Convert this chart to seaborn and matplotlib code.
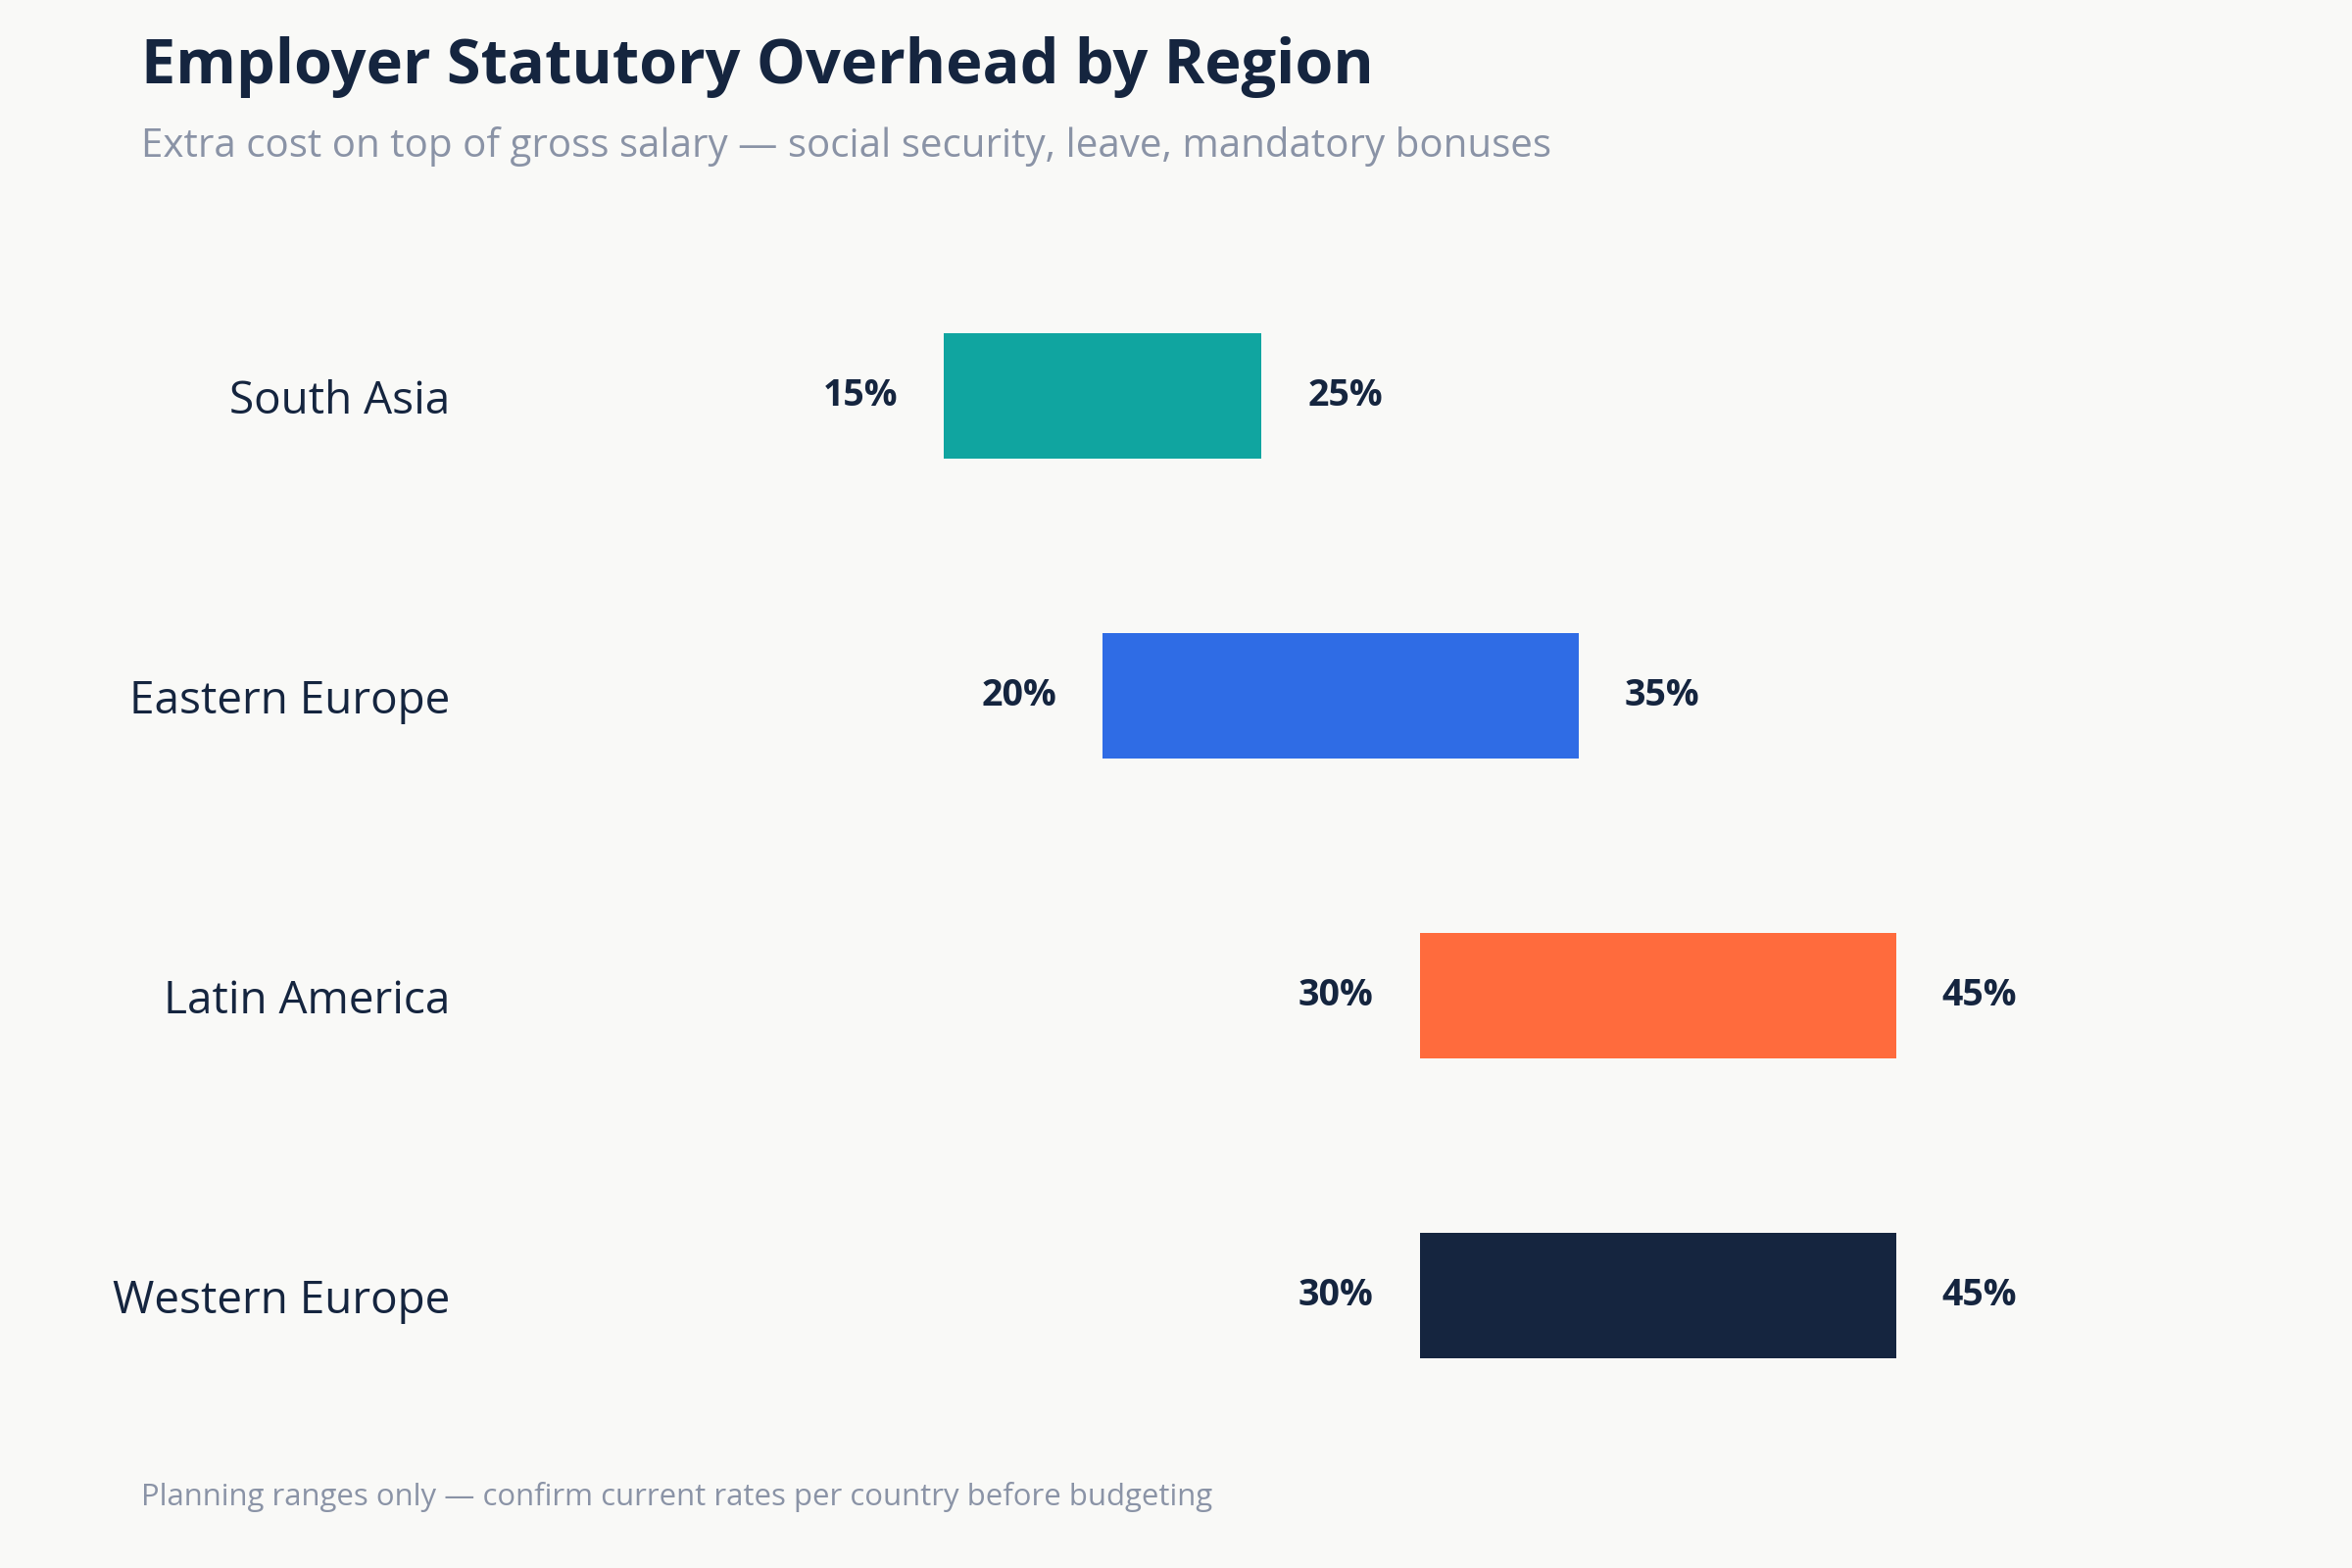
import matplotlib
matplotlib.use("Agg")
import matplotlib.pyplot as plt
import seaborn as sns
import pandas as pd

regions = ["South Asia", "Eastern Europe", "Latin America", "Western Europe"]
low_pct = [15, 20, 30, 30]
high_pct = [25, 35, 45, 45]
bar_colors = ["#10a5a0", "#2f6ce5", "#ff6b3d", "#15253f"]

title = "Employer Statutory Overhead by Region"
subtitle = "Extra cost on top of gross salary \u2014 social security, leave, mandatory bonuses"
footnote = "Planning ranges only \u2014 confirm current rates per country before budgeting"

BG = "#f9f9f7"
NAVY = "#15253f"
GRAY = "#8a93a6"

sns.set_theme(style="white", rc={"figure.facecolor": BG, "axes.facecolor": BG})
plt.rcParams["font.family"] = ["Open Sans", "DejaVu Sans"]

df = pd.DataFrame({
    "region": regions,
    "low": low_pct,
    "high": high_pct,
})
df["span"] = df["high"] - df["low"]

fig = plt.figure(figsize=(12, 8), dpi=200)
ax = fig.add_axes([0.199, 0.078, 0.742, 0.765])

sns.barplot(data=df, x="span", y="region", order=regions, orient="h",
            errorbar=None, width=0.42, ax=ax, color=NAVY, saturation=1,
            left=df["low"].to_numpy(), facecolor=bar_colors, linewidth=0)

ax.set_xlim(0, 55)
ax.set_ylim(3.5, -0.5)
ax.set_xlabel("")
ax.set_ylabel("")
ax.set_xticks([])
ax.tick_params(axis="y", length=0, pad=6.5, labelsize=16.5, labelcolor=NAVY)
for s in ax.spines.values():
    s.set_visible(False)

for i, (lo, hi) in enumerate(zip(df["low"], df["high"])):
    ax.annotate(f"{lo}%", xy=(lo, i), xytext=(-17, 0), textcoords="offset points",
                ha="right", va="center", fontsize=13.5, fontweight="bold", color=NAVY)
    ax.annotate(f"{hi}%", xy=(hi, i), xytext=(17, 0), textcoords="offset points",
                ha="left", va="center", fontsize=13.5, fontweight="bold", color=NAVY)

fig.text(0.06, 0.947, title, fontsize=22.7, fontweight="bold", color=NAVY, ha="left", va="baseline")
fig.text(0.06, 0.90, subtitle, fontsize=14.5, color=GRAY, ha="left", va="baseline")
fig.text(0.06, 0.04, footnote, fontsize=11.2, color=GRAY, ha="left", va="baseline")

fig.savefig("out.png", dpi=200, facecolor=BG)
